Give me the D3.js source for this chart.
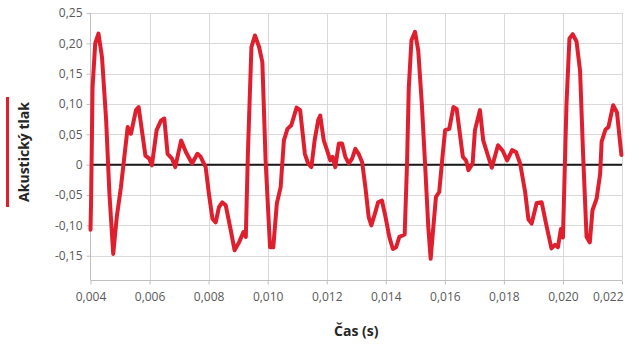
<!DOCTYPE html>
<html>
<head>
<meta charset="utf-8">
<script src="https://cdn.jsdelivr.net/npm/d3@7/dist/d3.min.js"></script>
<style>
  html, body { margin: 0; padding: 0; background: #fff; }
  svg { display: block; }
</style>
</head>
<body>
<svg id="chart" width="639" height="348"></svg>
<script>
// ---- Data ----
const times = [
  0.00400, 0.00402, 0.00407, 0.00416, 0.00427, 0.00439, 0.00453, 0.00464, 0.00477, 0.00489,
  0.00503, 0.00526, 0.00537, 0.00554, 0.00563, 0.00586, 0.00599, 0.00608, 0.00624, 0.00639,
  0.00650, 0.00661, 0.00676, 0.00687, 0.00707, 0.00723, 0.00744, 0.00762, 0.00773, 0.00790,
  0.00801, 0.00813, 0.00824, 0.00835, 0.00846, 0.00858, 0.00875, 0.00888, 0.00903, 0.00918,
  0.00926, 0.00933, 0.00945, 0.00957, 0.00971, 0.00982, 0.00993, 0.01008, 0.01019, 0.01031,
  0.01044, 0.01055, 0.01067, 0.01080, 0.01098, 0.01110, 0.01126, 0.01137, 0.01148, 0.01159,
  0.01171, 0.01178, 0.01190, 0.01201, 0.01212, 0.01220, 0.01229, 0.01241, 0.01252, 0.01263,
  0.01275, 0.01286, 0.01297, 0.01308, 0.01320, 0.01331, 0.01342, 0.01351, 0.01363, 0.01374,
  0.01387, 0.01399, 0.01412, 0.01424, 0.01435, 0.01446, 0.01455, 0.01464, 0.01472, 0.01478,
  0.01487, 0.01499, 0.01510, 0.01522, 0.01533, 0.01544, 0.01552, 0.01561, 0.01570, 0.01581,
  0.01593, 0.01601, 0.01615, 0.01629, 0.01640, 0.01661, 0.01672, 0.01680, 0.01694, 0.01702,
  0.01719, 0.01730, 0.01744, 0.01759, 0.01780, 0.01796, 0.01811, 0.01828, 0.01841, 0.01855,
  0.01872, 0.01883, 0.01894, 0.01911, 0.01928, 0.01944, 0.01961, 0.01973, 0.01983, 0.01993,
  0.02000, 0.02012, 0.02022, 0.02033, 0.02046, 0.02058, 0.02068, 0.02080, 0.02091, 0.02100,
  0.02114, 0.02126, 0.02131, 0.02144, 0.02154, 0.02170, 0.02183, 0.02198
];
const pressure = [
  -0.107, -0.059, 0.128, 0.200, 0.216, 0.177, 0.073, -0.047, -0.147, -0.086,
  -0.037, 0.062, 0.051, 0.090, 0.095, 0.015, 0.010, -0.001, 0.057, 0.073,
  0.076, 0.018, 0.010, -0.004, 0.040, 0.021, 0.002, 0.018, 0.013, -0.004,
  -0.048, -0.089, -0.095, -0.070, -0.062, -0.067, -0.108, -0.141, -0.128, -0.111,
  -0.119, 0.018, 0.194, 0.213, 0.194, 0.169, 0.007, -0.136, -0.136, -0.064,
  -0.037, 0.040, 0.059, 0.065, 0.094, 0.090, 0.018, 0.002, -0.004, 0.040,
  0.073, 0.081, 0.040, 0.024, 0.007, 0.013, -0.004, 0.035, 0.035, 0.013,
  0.002, 0.010, 0.026, 0.018, 0.004, -0.037, -0.086, -0.100, -0.081, -0.062,
  -0.059, -0.086, -0.119, -0.139, -0.136, -0.119, -0.117, -0.115, 0.002, 0.128,
  0.205, 0.219, 0.188, 0.101, 0.002, -0.103, -0.155, -0.103, -0.053, -0.045,
  0.018, 0.057, 0.059, 0.095, 0.092, 0.013, 0.007, -0.009, 0.002, 0.057,
  0.090, 0.040, 0.018, -0.005, 0.032, 0.023, 0.007, 0.024, 0.021, 0.002,
  -0.045, -0.090, -0.097, -0.063, -0.062, -0.100, -0.138, -0.132, -0.136, -0.106,
  -0.120, 0.100, 0.208, 0.215, 0.203, 0.155, 0.020, -0.119, -0.128, -0.075,
  -0.056, -0.015, 0.038, 0.058, 0.062, 0.098, 0.086, 0.016
];
const xTicks = [0.004, 0.006, 0.008, 0.010, 0.012, 0.014, 0.016, 0.018, 0.020, 0.022];
const yTicks = [-0.15, -0.10, -0.05, 0, 0.05, 0.10, 0.15, 0.20, 0.25];
const xDomain = [0.004, 0.022];
const yDomain = [-0.19, 0.25];
const xTitle = "Čas (s)";
const yTitle = "Akustický tlak";

// ---- Layout ----
const svg = d3.select("#chart");
const L = 90.5, R = 622, T = 13, B = 280;
const x = d3.scaleLinear().domain(xDomain).range([L, R]);
const y = d3.scaleLinear().domain(yDomain).range([B, T]);
const font = "'Open Sans', 'Noto Sans', sans-serif";
const fmtX = v => d3.format(".3f")(v).replace(".", ",");
const fmtY = v => (Math.abs(v) < 1e-9 ? "0" : d3.format(".2f")(v).replace(".", ",").replace("−", "-"));

// gridlines
const g = svg.append("g");
g.selectAll("line.hg").data(yTicks).join("line")
  .attr("x1", L).attr("x2", R)
  .attr("y1", d => Math.round(y(d)) + 0.5).attr("y2", d => Math.round(y(d)) + 0.5)
  .attr("stroke", "#d9d9d9").attr("stroke-width", 1);
g.selectAll("line.vg").data(xTicks.slice(1)).join("line")
  .attr("x1", d => Math.round(x(d)) + 0.5).attr("x2", d => Math.round(x(d)) + 0.5)
  .attr("y1", T).attr("y2", B)
  .attr("stroke", "#d9d9d9").attr("stroke-width", 1);

// axes
const yAxis = d3.axisLeft(y).tickValues(yTicks).tickFormat(fmtY).tickSize(4).tickPadding(4);
const xAxis = d3.axisBottom(x).tickValues(xTicks).tickFormat(fmtX).tickSize(4).tickPadding(8);

const ya = svg.append("g").attr("transform", `translate(${Math.round(L) - 0.5},0)`).call(yAxis);
const xa = svg.append("g").attr("transform", `translate(0,${B + 0.5})`).call(xAxis);
[ya, xa].forEach(a => {
  a.select(".domain").attr("stroke", "#bfbfbf");
  a.selectAll(".tick line").attr("stroke", "#bfbfbf");
  a.selectAll(".tick text").attr("fill", "#595959")
    .style("font-family", font).style("font-size", "12px");
});
ya.select(".domain").attr("d", `M0,${T}V${B}`);
xa.select(".domain").attr("d", `M${L},0H${R}`);
// last x label kept inside the chart (right-aligned to its tick)
xa.selectAll(".tick text").filter(d => d === xTicks[xTicks.length - 1])
  .attr("text-anchor", "end").attr("dx", "1");

// zero line
svg.append("line")
  .attr("x1", L).attr("x2", R)
  .attr("y1", y(0)).attr("y2", y(0))
  .attr("stroke", "#1a1a1a").attr("stroke-width", 2);

// series
const pts = times.map((t, i) => [t, pressure[i]]);
const line = d3.line().x(d => x(d[0])).y(d => y(d[1]));
svg.append("path")
  .datum(pts)
  .attr("d", line)
  .attr("fill", "none")
  .attr("stroke", "#df1f2d")
  .attr("stroke-width", 4)
  .attr("stroke-linejoin", "round")
  .attr("stroke-linecap", "round");

// titles
svg.append("text")
  .attr("x", (L + R) / 2).attr("y", 336)
  .attr("text-anchor", "middle")
  .attr("fill", "#262626")
  .style("font-family", font).style("font-size", "14px").style("font-weight", "bold")
  .text(xTitle);

svg.append("text")
  .attr("transform", "translate(29,152) rotate(-90)")
  .attr("text-anchor", "middle")
  .attr("fill", "#262626")
  .style("font-family", font).style("font-size", "14px").style("font-weight", "bold")
  .text(yTitle);

// legend marker
svg.append("line")
  .attr("x1", 7.5).attr("x2", 7.5).attr("y1", 97).attr("y2", 207)
  .attr("stroke", "#df1f2d").attr("stroke-width", 3);
</script>
</body>
</html>
